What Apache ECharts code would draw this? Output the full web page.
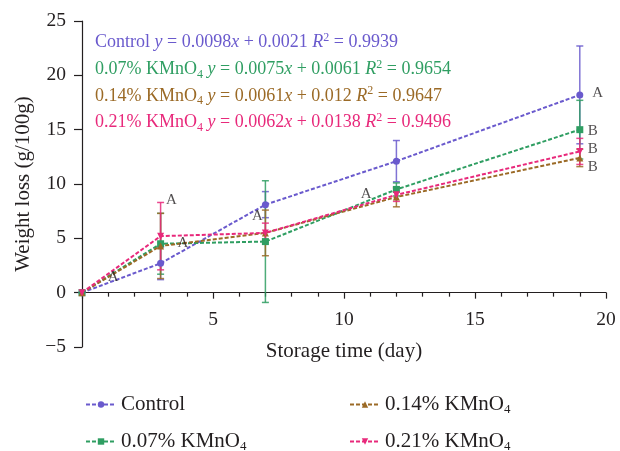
<!DOCTYPE html>
<html>
<head>
<meta charset="utf-8">
<script src="https://cdn.jsdelivr.net/npm/echarts@6/dist/echarts.min.js"></script>
<style>
  html, body { margin: 0; padding: 0; background: #fff; }
  #chart { width: 620px; height: 451px; }
</style>
</head>
<body>
<div id="chart"></div>
<script>
// Storage days sampled
const days = [0, 3, 7, 12, 19];

// Mean weight loss (g/100g) per treatment
const controlVals = [0, 2.7, 8.1, 12.1, 18.2];
const kmno07Vals  = [0, 4.5, 4.7, 9.5, 15.0];
const kmno14Vals  = [0, 4.3, 5.5, 8.8, 12.4];
const kmno21Vals  = [0, 5.2, 5.5, 9.0, 13.0];

// Standard deviations (error bar half-heights)
const controlErr = [0, 1.5, 1.2, 1.9, 4.5];
const kmno07Err  = [0, 2.8, 5.6, 0.6, 2.7];
const kmno14Err  = [0, 3.0, 2.1, 0.9, 0.8];
const kmno21Err  = [0, 3.1, 0.9, 0.6, 1.2];

// Significance letters: [day, weight loss, letter]
const letters = [
  [1.19, 1.44, 'A'], [3.41, 8.5, 'A'], [3.85, 4.55, 'A'],
  [6.70, 7.06, 'A'], [10.85, 9.08, 'A'], [19.68, 18.37, 'A'],
  [19.49, 14.9, 'B'], [19.49, 13.2, 'B'], [19.49, 11.6, 'B']
];

// Axis ticks
const yTicks = [-5, 0, 5, 10, 15, 20, 25];
const xTicks = [0, 5, 10, 15, 20];

// Regression equations
const equations = [
  { label: 'Control', slope: '0.0098', icpt: '0.0021', r2: '0.9939', sub: false },
  { label: '0.07% KMnO', slope: '0.0075', icpt: '0.0061', r2: '0.9654', sub: true },
  { label: '0.14% KMnO', slope: '0.0061', icpt: '0.012', r2: '0.9647', sub: true },
  { label: '0.21% KMnO', slope: '0.0062', icpt: '0.0138', r2: '0.9496', sub: true }
];

const names = ['Control', '0.07% KMnO4', '0.14% KMnO4', '0.21% KMnO4'];
const colors = ['#6a5acd', '#2f9e62', '#9b6a26', '#e8297b'];
const symbols = ['circle', 'rect', 'triangle', 'triangle'];
const rotations = [0, 0, 0, 180];
const valueSets = [controlVals, kmno07Vals, kmno14Vals, kmno21Vals];
const errSets = [controlErr, kmno07Err, kmno14Err, kmno21Err];

const FONT = 'Liberation Serif';
const TXT = '#231f20';

// Plot area
const W = 620, H = 451;
const GRID = { left: 82, right: 14, top: 21, bottom: 104 };
const gridH = H - GRID.top - GRID.bottom;
const yMin = yTicks[0], yMax = yTicks[yTicks.length - 1];
// the time axis sits on the zero line
const xAxisOffset = -gridH * (0 - yMin) / (yMax - yMin);

const lineSeries = names.map((n, i) => ({
  name: n,
  type: 'line',
  data: days.map((d, j) => [d, valueSets[i][j]]),
  symbol: symbols[i],
  symbolRotate: rotations[i],
  symbolSize: 7,
  color: colors[i],
  lineStyle: { type: [4, 2], width: 2, color: colors[i] },
  itemStyle: { color: colors[i] },
  z: 3
}));

const errSeries = names.map((n, i) => ({
  name: n + ' SD',
  type: 'custom',
  data: days.map((d, j) => [d, valueSets[i][j], errSets[i][j]]),
  renderItem: function (params, api) {
    const x = api.value(0), y = api.value(1), e = api.value(2);
    if (!e) return null;
    const top = api.coord([x, y + e]);
    const bot = api.coord([x, y - e]);
    const hw = 3.5;
    const st = { stroke: colors[i], lineWidth: 1.5, opacity: 0.85 };
    return {
      type: 'group',
      children: [
        { type: 'line', shape: { x1: top[0], y1: top[1], x2: bot[0], y2: bot[1] }, style: st },
        { type: 'line', shape: { x1: top[0] - hw, y1: top[1], x2: top[0] + hw, y2: top[1] }, style: st },
        { type: 'line', shape: { x1: bot[0] - hw, y1: bot[1], x2: bot[0] + hw, y2: bot[1] }, style: st }
      ]
    };
  },
  z: 2,
  silent: true
}));

const letterSeries = {
  name: 'letters',
  type: 'scatter',
  data: letters.map(l => [l[0], l[1], l[2]]),
  symbolSize: 0,
  silent: true,
  label: {
    show: true,
    position: 'inside',
    formatter: p => p.value[2],
    fontFamily: FONT,
    fontSize: 15,
    color: TXT
  },
  z: 5
};

function legendFmt(name) {
  return name.replace(/KMnO4$/, 'KMnO{s|4}');
}

// One legend per entry, two columns
const legendPos = [
  { left: 80, top: 389 },
  { left: 80, top: 426 },
  { left: 344, top: 389 },
  { left: 344, top: 426 }
];
const legends = names.map((n, i) => ({
  data: [n],
  orient: 'vertical',
  left: legendPos[i].left,
  top: legendPos[i].top,
  itemWidth: 30,
  itemHeight: 8,
  formatter: legendFmt,
  selectedMode: false,
  textStyle: {
    fontFamily: FONT, fontSize: 21, color: TXT,
    rich: {
      s: { fontFamily: FONT, fontSize: 13, color: TXT, verticalAlign: 'bottom', padding: [11, 0, 0, 0] }
    }
  }
}));

// Equation lines drawn as rich text
const EQ_FS = 18;
const eqGraphics = equations.map((eq, i) => {
  const c = colors[i];
  const rich = {
    n: { fontFamily: FONT, fontSize: EQ_FS, fill: c },
    i: { fontFamily: FONT, fontSize: EQ_FS, fontStyle: 'italic', fill: c },
    s: { fontFamily: FONT, fontSize: 12, fill: c, verticalAlign: 'bottom', padding: [10, 0, 0, 0] },
    p: { fontFamily: FONT, fontSize: 12, fill: c, verticalAlign: 'top', padding: [0, 0, 9, 0] }
  };
  let t = '{n|' + eq.label + '}';
  if (eq.sub) t += '{s|4}';
  t += '{n| }{i|y}{n| = ' + eq.slope + '}{i|x}{n| + ' + eq.icpt + ' }{i|R}{p|2}{n| = ' + eq.r2 + '}';
  return {
    type: 'text',
    left: 95,
    top: 32 + i * 26.5,
    style: { text: t, rich: rich, fontFamily: FONT, fontSize: EQ_FS, fill: c }
  };
});

const chart = echarts.init(document.getElementById('chart'), null, { renderer: 'canvas' });
chart.setOption({
  backgroundColor: '#ffffff',
  animation: false,
  grid: Object.assign({ containLabel: false }, GRID),
  xAxis: {
    type: 'value',
    min: xTicks[0],
    max: xTicks[xTicks.length - 1],
    interval: 5,
    offset: xAxisOffset,
    name: 'Storage time (day)',
    nameLocation: 'middle',
    nameGap: 48,
    nameTextStyle: { fontFamily: FONT, fontSize: 21, color: TXT },
    axisLine: { onZero: false, lineStyle: { color: '#231f20', width: 1.2 } },
    axisTick: { length: 6, lineStyle: { color: '#231f20', width: 1.2 } },
    minorTick: { show: true, splitNumber: 5, length: 4, lineStyle: { color: '#231f20', width: 1.2 } },
    axisLabel: {
      fontFamily: FONT, fontSize: 19.5, color: TXT, margin: 17,
      formatter: v => (v === 0 ? '' : String(v))
    },
    splitLine: { show: false }
  },
  yAxis: {
    type: 'value',
    min: yMin,
    max: yMax,
    interval: 5,
    name: 'Weight loss (g/100g)',
    nameLocation: 'middle',
    nameGap: 48,
    nameTextStyle: { fontFamily: FONT, fontSize: 21, color: TXT },
    axisLine: { show: true, onZero: false, lineStyle: { color: '#231f20', width: 1.2 } },
    axisTick: { show: true, length: 8, lineStyle: { color: '#231f20', width: 1.2 } },
    axisLabel: {
      fontFamily: FONT, fontSize: 19.5, color: TXT, margin: 16,
      formatter: v => String(v).replace('-', '\u2212')
    },
    splitLine: { show: false }
  },
  legend: legends,
  graphic: eqGraphics,
  series: [].concat(errSeries, lineSeries, [letterSeries])
});
</script>
</body>
</html>
